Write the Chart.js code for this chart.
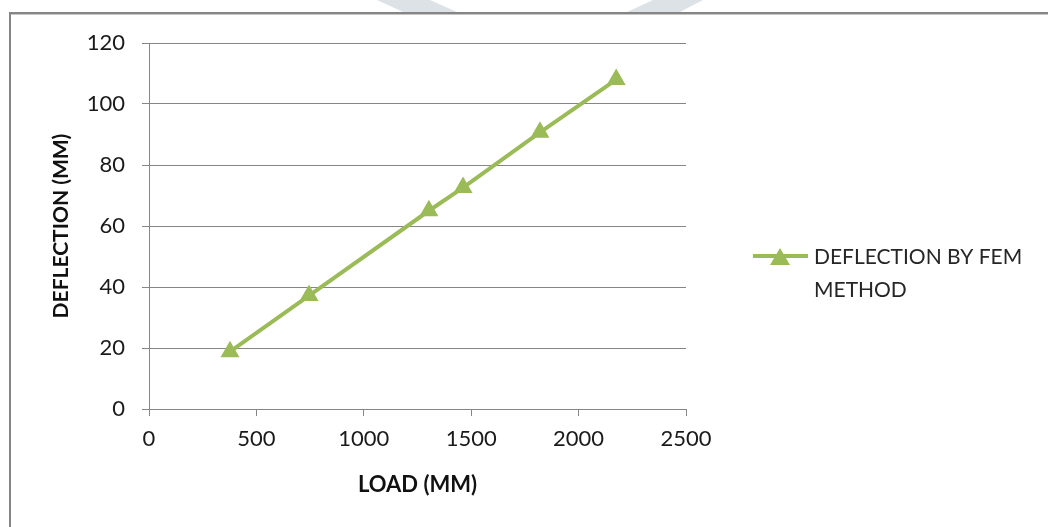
<!DOCTYPE html>
<html>
<head>
<meta charset="utf-8">
<script src="https://cdn.jsdelivr.net/npm/chart.js@4/dist/chart.umd.min.js"></script>
<style>
  html, body { margin: 0; padding: 0; background: #fff; }
  #wrap { width: 1048px; height: 527px; position: relative; }
</style>
</head>
<body>
<div id="wrap"><canvas id="graf"></canvas></div>
<script>
const loads = [377, 745, 1303, 1462, 1820, 2175];
const deflections = [18.8, 37.2, 65, 72.6, 90.7, 108];
const seriesName = "DEFLECTION BY FEM METHOD";
const legendLines = ["DEFLECTION BY FEM", "METHOD"];
const xTitle = "LOAD (MM)";
const yTitle = "DEFLECTION (MM)";

const green = "#9BBB59";
const fontFamily = "Lato, 'Open Sans', 'Liberation Sans', sans-serif";

// frame and faint watermark behind everything
const backdrop = {
  id: "backdrop",
  beforeDraw(chart) {
    const ctx = chart.ctx;
    ctx.save();
    ctx.fillStyle = "#dde2e7";
    ctx.beginPath();
    ctx.moveTo(377, 0); ctx.lineTo(430, 0); ctx.lineTo(457, 12); ctx.lineTo(403, 12);
    ctx.closePath(); ctx.fill();
    ctx.beginPath();
    ctx.moveTo(653, 0); ctx.lineTo(703, 0); ctx.lineTo(680, 12); ctx.lineTo(627, 12);
    ctx.closePath(); ctx.fill();
    ctx.fillStyle = "#858585";
    ctx.fillRect(9, 12, 1048, 2);
    ctx.fillRect(9, 12, 2, 527);
    ctx.fillStyle = "#c8c8c8";
    ctx.fillRect(11, 14, 1048, 1);
    ctx.restore();
  }
};

// legend drawn by hand to match the wrapped label
const sideLegend = {
  id: "sideLegend",
  afterDraw(chart) {
    const ctx = chart.ctx;
    const ds = chart.data.datasets[0];
    ctx.save();
    ctx.strokeStyle = ds.borderColor;
    ctx.lineWidth = 4;
    ctx.beginPath();
    ctx.moveTo(753, 256);
    ctx.lineTo(808, 256);
    ctx.stroke();
    ctx.fillStyle = ds.pointBackgroundColor;
    ctx.beginPath();
    ctx.moveTo(780, 248);
    ctx.lineTo(790, 265);
    ctx.lineTo(770, 265);
    ctx.closePath();
    ctx.fill();
    ctx.fillStyle = "#262626";
    ctx.font = "21px " + fontFamily;
    ctx.textBaseline = "middle";
    ctx.fillText(legendLines[0], 814, 257);
    ctx.fillText(legendLines[1], 814, 290);
    ctx.restore();
  }
};

new Chart(document.getElementById("graf"), {
  type: "line",
  data: {
    datasets: [{
      label: seriesName,
      data: loads.map((x, i) => ({ x: x, y: deflections[i] })),
      borderColor: green,
      backgroundColor: green,
      pointBackgroundColor: green,
      pointBorderColor: green,
      borderWidth: 4,
      pointStyle: "triangle",
      pointRadius: 11,
      pointBorderWidth: 0,
      tension: 0,
      fill: false
    }]
  },
  options: {
    responsive: true,
    maintainAspectRatio: false,
    animation: false,
    layout: { padding: { top: 43, right: 362, bottom: 0, left: 0 } },
    plugins: {
      legend: { display: false },
      tooltip: { enabled: false }
    },
    scales: {
      x: {
        type: "linear",
        min: 0,
        max: 2500,
        ticks: {
          stepSize: 500,
          padding: 10,
          color: "#1a1a1a",
          font: { family: fontFamily, size: 22 },
          callback: v => String(v)
        },
        grid: { drawOnChartArea: false, drawTicks: true, tickLength: 7, color: "#868686" },
        border: { color: "#868686" },
        title: {
          display: true,
          text: xTitle,
          color: "#111",
          font: { family: fontFamily, size: 22, weight: "bold" },
          padding: { top: 0, bottom: 29 }
        },
        afterFit(scale) { scale.height = 118; }
      },
      y: {
        min: 0,
        max: 120,
        ticks: {
          stepSize: 20,
          padding: 17,
          color: "#1a1a1a",
          font: { family: fontFamily, size: 22 },
          callback: v => String(v)
        },
        grid: { color: "#868686", tickLength: 7 },
        border: { color: "#868686" },
        title: {
          display: true,
          text: yTitle,
          color: "#111",
          font: { family: fontFamily, size: 21, weight: "bold" },
          padding: { top: 49, bottom: 0 }
        },
        afterFit(scale) { scale.width = 149; }
      }
    }
  },
  plugins: [backdrop, sideLegend]
});
</script>
</body>
</html>
